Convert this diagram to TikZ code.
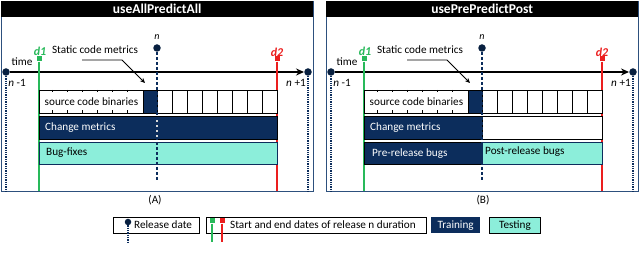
\documentclass[tikz,border=0pt]{standalone}
\usepackage{fontspec}
\setmainfont{Carlito}
\usetikzlibrary{arrows.meta}
\definecolor{navy}{RGB}{12,45,92}
\definecolor{aqua}{RGB}{140,238,218}
\definecolor{framec}{RGB}{45,80,125}
\definecolor{dgreen}{RGB}{40,185,90}
\definecolor{dred}{RGB}{235,30,30}
\tikzset{
  dot/.style={circle,fill=navy!70!black,inner sep=0pt,minimum size=7.5pt},
  dotline/.style={navy,line width=1.3pt,densely dotted},
  nline/.style={navy,line width=2pt,dash pattern=on 3pt off 2pt},
  sq/.style={rectangle,fill=#1,inner sep=0pt,minimum size=5pt},
  cellbox/.style={draw=black,fill=white,line width=0.9pt,inner sep=0pt,anchor=north west,minimum height=23pt},
  navybox/.style={draw=black,fill=navy,line width=0.9pt,inner sep=0pt,anchor=north west,minimum height=23pt},
  aquabox/.style={draw=navy,fill=aqua,line width=0.9pt,inner sep=0pt,anchor=north west,minimum height=22pt},
  lbl/.style={inner sep=0pt,anchor=west},
  legbox/.style={draw=black,line width=1.3pt,fill=white,inner sep=0pt,anchor=north west,minimum height=16pt},
}
\newcommand\panelcommon[2]{%
  \node[draw=framec,line width=1pt,inner sep=0pt,anchor=north west,minimum width=312pt,minimum height=190pt] (#1panel) at (1,1) {};
  \node[fill=black,text=white,inner sep=0pt,anchor=north west,minimum width=312pt,minimum height=16pt,font=\fontsize{13.5}{15}\selectfont\bfseries] (#1title) at (1,1) {#2};
  % end dots
  \node[dot] (#1L) at (6,72) {};
  \node[dot] (#1R) at (308,72) {};
  \coordinate (#1Lb) at (6,192);
  \coordinate (#1Rb) at (308,192);
  \draw[dotline] (#1L) -- (#1Lb);
  \draw[dotline] (#1R) -- (#1Rb);
  \draw[line width=1.5pt,-{Stealth[length=8pt,width=7pt]}] (#1L) -- (#1R.west);
  \node[inner sep=0pt] (#1time) at (22,62) {time};
  \node[inner sep=0pt] (#1nm) at (17,83) {\textit{n} -1};
  \node[inner sep=0pt] (#1np) at (296,83) {\textit{n} +1};
  % d1 d2
  \node[sq=dgreen] (#1d1) at (39,59) {};
  \node[sq=dred] (#1d2) at (277,59) {};
  \coordinate (#1d1b) at (39,191);
  \coordinate (#1d2b) at (277,191);
  \draw[dgreen,line width=1.1pt] (#1d1) -- (#1d1b);
  \draw[dred,line width=1.1pt] (#1d2) -- (#1d2b);
  \node[text=dgreen,inner sep=0pt,font=\fontsize{12}{13}\selectfont\bfseries\itshape] (#1d1l) at (40,51) {d1};
  \node[text=dred,inner sep=0pt,font=\fontsize{12}{13}\selectfont\bfseries\itshape] (#1d2l) at (277,52) {d2};
  % n
  \node[dot] (#1n) at (157,48) {};
  \node[inner sep=0pt,font=\itshape] (#1nl) at (157,37) {n};
  % static code metrics
  \node[inner sep=0pt] (#1scm) at (95,50) {Static code metrics};
  \coordinate (#1as) at (82,60);
  \coordinate (#1ae) at (122,60);
  \coordinate (#1at) at (145,83);
  \draw[line width=0.9pt,-{Stealth[length=5pt,width=4.5pt]}] (#1as) -- (#1ae) -- (#1at);
  % source row
  \node[cellbox,minimum width=104pt] (#1src) at (39,90) {source code binaries};
  \foreach \x in {52,67,...,127} {\draw[line width=0.8pt] (\x,90) -- (\x,92.5) (\x,113) -- (\x,110.5);}
  \node[navybox,minimum width=14pt] (#1static) at (143,90) {};
  \foreach \i in {0,...,7} {\node[cellbox,minimum width=15pt] (#1c\i) at (157+15*\i,90) {};}
}
\begin{document}
\begin{tikzpicture}[x=1pt,y=-1pt,font=\fontsize{11.2}{13}\selectfont]
\useasboundingbox (0,0) rectangle (640,261);
% Panel A
\begin{scope}
  \panelcommon{a}{useAllPredictAll}
  \node[navybox,minimum width=238pt] (acm) at (39,116) {};
  \node[lbl,text=white] (acmt) at (45,127.5) {Change metrics};
  \node[aquabox,minimum width=238pt] (abf) at (39,142) {};
  \node[lbl] (abft) at (46,153) {Bug-fixes};
  \coordinate (anb) at (157,181);
  \draw[white!70!gray,line width=2.6pt] (157,117) -- (157,138);
  \draw[nline] (an) -- (anb);
  \node (acap) at (155,200) {(A)};
\end{scope}
% Panel B
\begin{scope}[xshift=325pt]
  \panelcommon{b}{usePrePredictPost}
  \node[navybox,minimum width=118pt] (bcm) at (39,116) {};
  \node[lbl,text=white] (bcmt) at (45,127.5) {Change metrics};
  \node[cellbox,minimum width=120pt] (bcm2) at (157,116) {};
  \node[navybox,minimum width=118pt,minimum height=22pt] (bpre) at (39,142) {};
  \node[lbl,text=white] (bpret) at (47,154) {Pre-release bugs};
  \node[aquabox,minimum width=120pt] (bpost) at (157,142) {};
  \node[lbl] (bpostt) at (160,152) {Post-release bugs};
  \coordinate (bnb) at (157,181);
  \draw[nline] (bn) -- (bnb);
  \node (bcap) at (158,200) {(B)};
\end{scope}
% Legend
\node[legbox,minimum width=86pt] (lg1) at (113,217) {};
\node[dot,minimum size=6.5pt] (lgdot) at (128,222) {};
\coordinate (lgdotb) at (128,242);
\draw[dotline] (lgdot) -- (lgdotb);
\node[lbl] (lg1t) at (134,225) {Release date};
\node[legbox,minimum width=220pt] (lg2) at (206,217) {};
\node[sq=dgreen] (lgg) at (212,221) {};
\node[sq=dred] (lgr) at (222,221) {};
\coordinate (lggb) at (212,242);
\coordinate (lgrb) at (222,242);
\draw[dgreen,line width=1.1pt] (lgg) -- (lggb);
\draw[dred,line width=1.1pt] (lgr) -- (lgrb);
\node[lbl] (lg2t) at (230,225) {Start and end dates of release n duration};
\node[fill=navy,text=white,inner sep=0pt,anchor=north west,minimum width=49pt,minimum height=16pt] (lgtr) at (431,217) {Training};
\node[fill=aqua,draw=black,line width=1pt,inner sep=0pt,anchor=north west,minimum width=51pt,minimum height=16pt] (lgte) at (489,217) {Testing};
\end{tikzpicture}
\end{document}
